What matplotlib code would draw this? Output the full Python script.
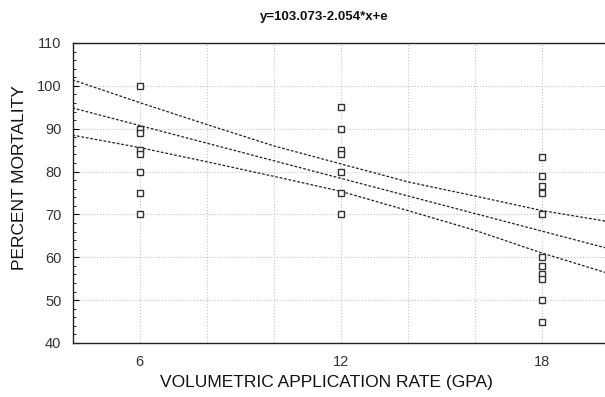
import numpy as np
import matplotlib
matplotlib.use("Agg")
import matplotlib.pyplot as plt
from matplotlib.ticker import MultipleLocator, FixedLocator

plt.rcParams['font.family'] = ['Liberation Sans', 'DejaVu Sans']

# observed points (GPA, % mortality)
x6 = [6] * 8
y6 = [100, 90, 89, 85, 84, 80, 75, 70]
x12 = [12] * 7
y12 = [95, 90, 85, 84, 80, 75, 70]
x18 = [18] * 11
y18 = [83.5, 79, 76.7, 75, 70, 60, 58, 56, 55, 50, 45]

# fitted model from the title
intercept = 103.073
slope = -2.054

# 95% confidence band
band_x = [4, 6, 8, 10, 12, 14, 16, 18, 20]
band_upper = [101.4, 96.1, 91.0, 86.0, 81.8, 77.6, 74.3, 70.9, 68.3]
band_lower = [88.5, 85.6, 82.3, 78.9, 75.4, 70.9, 66.3, 61.0, 56.2]

fig = plt.figure(figsize=(6.05, 3.97), dpi=100)
ax = fig.add_axes([72.5 / 605, 1 - 343 / 397, 536.5 / 605, 300 / 397])

xs = np.array([4, 20])
dash = (0, (2.2, 1.4))
ax.plot(xs, intercept + slope * xs, color="#222222", lw=0.9, linestyle=dash)
ax.plot(band_x, band_upper, color="#222222", lw=0.9, linestyle=dash)
ax.plot(band_x, band_lower, color="#222222", lw=0.9, linestyle=dash)

for xv, yv in [(x6, y6), (x12, y12), (x18, y18)]:
    ax.plot(xv, yv, linestyle="none", marker="s", ms=5, mfc="white",
            mec="#333333", mew=1.0, zorder=3)

ax.set_xlim(4, 20)
ax.set_ylim(40, 110)
ax.xaxis.set_major_locator(FixedLocator([6, 12, 18]))
ax.xaxis.set_minor_locator(MultipleLocator(2))
ax.yaxis.set_major_locator(MultipleLocator(10))
ax.yaxis.set_minor_locator(MultipleLocator(2))

# dotted grid: every 10 on y, every 2 on x
ax.grid(True, which="major", axis="y", color="#c4c4c4", linestyle=":", lw=0.8)
ax.grid(True, which="both", axis="x", color="#c4c4c4", linestyle=":", lw=0.8)

ax.tick_params(axis="x", which="both", length=0, pad=9, labelsize=10.5,
               labelcolor="#333333")
ax.tick_params(axis="y", which="major", direction="in", length=4, pad=8,
               labelsize=10.5, labelcolor="#333333")
ax.tick_params(axis="y", which="minor", direction="in", length=2.5)

for s in ["left", "bottom", "top"]:
    ax.spines[s].set_color("#222222")
    ax.spines[s].set_linewidth(1.0)
ax.spines["right"].set_visible(False)

ax.set_xlabel("VOLUMETRIC APPLICATION RATE (GPA)", fontsize=12.5,
              color="#111111")
ax.set_ylabel("PERCENT MORTALITY", fontsize=12.5, color="#111111")
ax.xaxis.set_label_coords(0.474, -0.105)
ax.yaxis.set_label_coords(-0.085, 0.553)

fig.text(324 / 605, 1 - 17 / 397, "y=103.073-2.054*x+e", ha="center",
         va="center", fontsize=9.5, fontweight="bold", color="#111111")

fig.savefig("out.png", dpi=100)
